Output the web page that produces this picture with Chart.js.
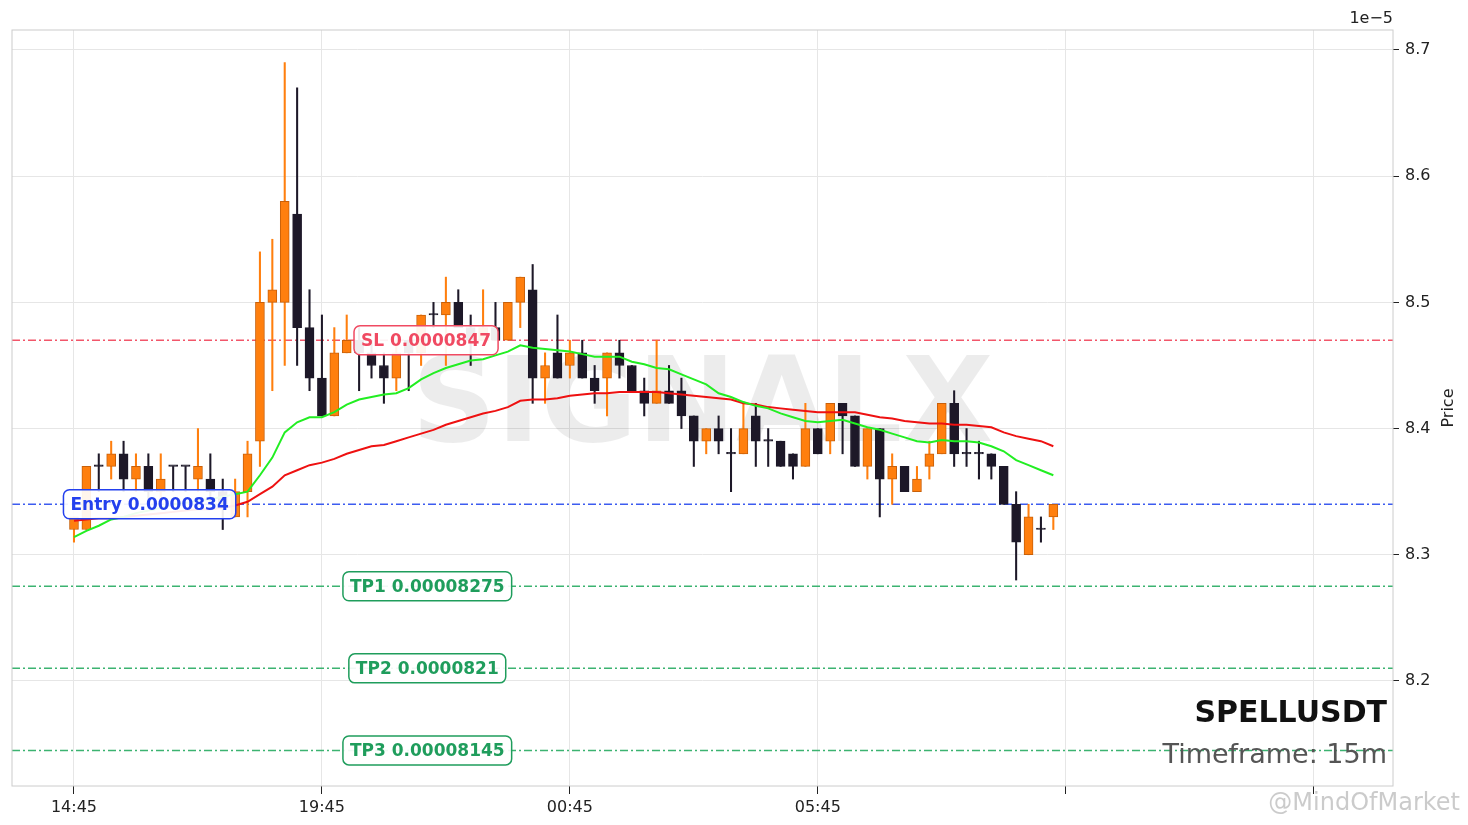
<!DOCTYPE html>
<html lang="en">
<head>
  <meta charset="UTF-8">
  <title>SPELLUSDT 15m</title>
  <script src="https://cdn.jsdelivr.net/npm/chart.js"></script>
  <style>
    body { margin: 0; background: #fff; }
    #wrap { width: 1468px; height: 825px; position: relative; }
  </style>
</head>
<body>
  <div id="wrap"><canvas id="chart"></canvas></div>

  <script>
    // Velas de 15m (precios en unidades de 1e-5)
    const opens  = [8.32, 8.32, 8.37, 8.37, 8.38, 8.36, 8.37, 8.35, 8.37, 8.37,
                    8.36, 8.36, 8.35, 8.33, 8.35, 8.39, 8.50, 8.50, 8.57, 8.48,
                    8.44, 8.41, 8.46, 8.47, 8.46, 8.45, 8.44, 8.47, 8.46, 8.49,
                    8.49, 8.50, 8.48, 8.47, 8.48, 8.47, 8.50, 8.51, 8.44, 8.46,
                    8.45, 8.46, 8.44, 8.44, 8.46, 8.45, 8.43, 8.42, 8.43, 8.43,
                    8.41, 8.39, 8.40, 8.38, 8.38, 8.41, 8.39, 8.39, 8.38, 8.37,
                    8.40, 8.39, 8.42, 8.41, 8.37, 8.40, 8.36, 8.37, 8.35, 8.37,
                    8.38, 8.42, 8.38, 8.38, 8.38, 8.37, 8.34, 8.30, 8.32, 8.33];
    const highs  = [8.33, 8.37, 8.38, 8.39, 8.39, 8.38, 8.38, 8.38, 8.37, 8.37,
                    8.40, 8.38, 8.36, 8.36, 8.39, 8.54, 8.55, 8.69, 8.67, 8.51,
                    8.49, 8.48, 8.49, 8.48, 8.47, 8.46, 8.47, 8.47, 8.49, 8.50,
                    8.52, 8.51, 8.49, 8.51, 8.50, 8.50, 8.52, 8.53, 8.46, 8.49,
                    8.47, 8.47, 8.45, 8.46, 8.47, 8.45, 8.44, 8.47, 8.45, 8.44,
                    8.41, 8.40, 8.41, 8.40, 8.42, 8.42, 8.40, 8.39, 8.38, 8.42,
                    8.40, 8.42, 8.42, 8.41, 8.40, 8.40, 8.38, 8.37, 8.37, 8.39,
                    8.42, 8.43, 8.40, 8.39, 8.38, 8.37, 8.35, 8.34, 8.33, 8.34];
    const lows   = [8.31, 8.32, 8.35, 8.36, 8.35, 8.35, 8.34, 8.34, 8.35, 8.35,
                    8.35, 8.34, 8.32, 8.33, 8.33, 8.37, 8.43, 8.45, 8.45, 8.43,
                    8.41, 8.41, 8.46, 8.43, 8.44, 8.42, 8.43, 8.43, 8.45, 8.48,
                    8.45, 8.48, 8.45, 8.47, 8.47, 8.47, 8.48, 8.42, 8.42, 8.44,
                    8.44, 8.44, 8.42, 8.41, 8.44, 8.43, 8.41, 8.42, 8.42, 8.40,
                    8.37, 8.38, 8.38, 8.35, 8.38, 8.37, 8.37, 8.37, 8.36, 8.37,
                    8.38, 8.38, 8.38, 8.37, 8.36, 8.33, 8.34, 8.35, 8.35, 8.36,
                    8.38, 8.37, 8.37, 8.36, 8.36, 8.34, 8.28, 8.30, 8.31, 8.32];
    const closes = [8.33, 8.37, 8.37, 8.38, 8.36, 8.37, 8.35, 8.36, 8.37, 8.37,
                    8.37, 8.35, 8.34, 8.35, 8.38, 8.50, 8.51, 8.58, 8.48, 8.44,
                    8.41, 8.46, 8.47, 8.46, 8.45, 8.44, 8.46, 8.46, 8.49, 8.49,
                    8.50, 8.48, 8.47, 8.48, 8.47, 8.50, 8.52, 8.44, 8.45, 8.44,
                    8.46, 8.44, 8.43, 8.46, 8.45, 8.43, 8.42, 8.43, 8.42, 8.41,
                    8.39, 8.40, 8.39, 8.38, 8.40, 8.39, 8.39, 8.37, 8.37, 8.40,
                    8.38, 8.42, 8.41, 8.37, 8.40, 8.36, 8.37, 8.35, 8.36, 8.38,
                    8.42, 8.38, 8.38, 8.38, 8.37, 8.34, 8.31, 8.33, 8.32, 8.34];

    // Medias móviles
    const maFast = [8.314, 8.319, 8.323, 8.328, 8.330, 8.333, 8.335, 8.337, 8.340, 8.341,
                    8.343, 8.344, 8.346, 8.348, 8.350, 8.363, 8.377, 8.397, 8.405, 8.409,
                    8.409, 8.413, 8.419, 8.423, 8.425, 8.427, 8.428, 8.432, 8.439, 8.444,
                    8.448, 8.451, 8.454, 8.455, 8.458, 8.461, 8.466, 8.464, 8.463, 8.462,
                    8.461, 8.459, 8.457, 8.457, 8.457, 8.453, 8.451, 8.448, 8.447, 8.443,
                    8.439, 8.435, 8.428, 8.425, 8.421, 8.418, 8.416, 8.412, 8.409, 8.406,
                    8.405, 8.406, 8.407, 8.404, 8.401, 8.399, 8.396, 8.393, 8.390, 8.389,
                    8.391, 8.390, 8.390, 8.389, 8.386, 8.382, 8.375, 8.371, 8.367, 8.363];
    const maSlow = [8.327, 8.328, 8.329, 8.329, 8.330, 8.331, 8.332, 8.333, 8.334, 8.335,
                    8.336, 8.336, 8.337, 8.339, 8.342, 8.348, 8.354, 8.363, 8.367, 8.371,
                    8.373, 8.376, 8.380, 8.383, 8.386, 8.387, 8.390, 8.393, 8.396, 8.399,
                    8.403, 8.406, 8.409, 8.412, 8.414, 8.417, 8.422, 8.423, 8.423, 8.424,
                    8.426, 8.427, 8.428, 8.428, 8.429, 8.429, 8.429, 8.429, 8.428, 8.427,
                    8.426, 8.425, 8.424, 8.423, 8.420, 8.419, 8.417, 8.416, 8.415, 8.414,
                    8.413, 8.413, 8.413, 8.413, 8.411, 8.409, 8.408, 8.406, 8.405, 8.404,
                    8.404, 8.403, 8.403, 8.402, 8.401, 8.397, 8.394, 8.392, 8.390, 8.386];

    // Niveles de la señal
    const levelValues = [8.47, 8.34, 8.275, 8.21, 8.145];
    const levelTexts  = ["SL 0.0000847", "Entry 0.0000834", "TP1 0.00008275", "TP2 0.0000821", "TP3 0.00008145"];

    // Eje x: índice de vela y etiquetas
    const tickIndex  = [0, 20, 40, 60, 80, 100];
    const tickLabels = ["14:45", "19:45", "00:45", "05:45", "", ""];
    const yTicks = [8.2, 8.3, 8.4, 8.5, 8.6, 8.7];

    const symbol = "SPELLUSDT";
    const timeframe = "Timeframe: 15m";

    // Estilos
    const UP = "#ff7f0e", UP_EDGE = "#c8600a", DOWN = "#1d1828";
    const levelLine  = ["#f2566a", "#3d5cf0", "#3cb371", "#3cb371", "#3cb371"];
    const levelColor = ["#f04a62", "#2340ee", "#1f9d5c", "#1f9d5c", "#1f9d5c"];
    const labelAt    = [28.4, 6.1, 28.5, 28.5, 28.5];

    const isUp = closes.map((c, i) => c > opens[i]);
    const bodies = opens.map((o, i) => ({ x: i, y: [o, closes[i]] }));
    const wicks = lows.map((l, i) => ({ x: i, y: [l, highs[i]] }));

    const fontFam = "'DejaVu Sans', sans-serif";
    Chart.defaults.font.family = fontFam;
    Chart.defaults.font.size = 16;
    Chart.defaults.color = "#222";

    const overlay = {
      id: "overlay",
      beforeDatasetsDraw(chart) {
        const { ctx, chartArea: a, scales: { y } } = chart;
        ctx.save();
        // marca de agua
        ctx.fillStyle = "rgba(0,0,0,0.075)";
        ctx.font = "bold 118px " + fontFam;
        ctx.textAlign = "center";
        ctx.textBaseline = "alphabetic";
        ctx.fillText("SIGNALX", (a.left + a.right) / 2, 441);
        // líneas de nivel
        ctx.lineWidth = 1.5;
        ctx.setLineDash([8, 3, 2, 3]);
        levelValues.forEach((v, i) => {
          const py = y.getPixelForValue(v);
          ctx.strokeStyle = levelLine[i];
          ctx.beginPath();
          ctx.moveTo(a.left, py);
          ctx.lineTo(a.right, py);
          ctx.stroke();
        });
        ctx.restore();
      },
      afterDatasetsDraw(chart) {
        const { ctx, chartArea: a, scales: { x, y } } = chart;
        ctx.save();
        // etiquetas de nivel
        ctx.font = "bold 17px " + fontFam;
        ctx.textAlign = "center";
        ctx.textBaseline = "middle";
        levelTexts.forEach((t, i) => {
          const cx = x.getPixelForValue(labelAt[i]);
          const cy = y.getPixelForValue(levelValues[i]);
          const w = ctx.measureText(t).width + 14, h = 29;
          ctx.beginPath();
          ctx.roundRect(cx - w / 2, cy - h / 2, w, h, 6);
          ctx.fillStyle = "rgba(255,255,255,0.92)";
          ctx.fill();
          ctx.lineWidth = 1.5;
          ctx.strokeStyle = levelColor[i];
          ctx.stroke();
          ctx.fillStyle = levelColor[i];
          ctx.fillText(t, cx, cy + 1);
        });
        // borde del área
        ctx.strokeStyle = "#cccccc";
        ctx.lineWidth = 1;
        ctx.strokeRect(a.left, a.top, a.right - a.left, a.bottom - a.top);
        // símbolo y timeframe
        ctx.textAlign = "right";
        ctx.textBaseline = "alphabetic";
        ctx.fillStyle = "#111";
        ctx.font = "bold 30px " + fontFam;
        ctx.fillText(symbol, a.right - 6, 722);
        ctx.fillStyle = "#555";
        ctx.font = "27px " + fontFam;
        ctx.fillText(timeframe, a.right - 6, 763);
        ctx.restore();
      },
      afterDraw(chart) {
        const { ctx, chartArea: a } = chart;
        ctx.save();
        ctx.fillStyle = "#222";
        ctx.font = "16px " + fontFam;
        ctx.textAlign = "right";
        ctx.fillText("1e\u22125", a.right, 23);
        ctx.translate(1453, (a.top + a.bottom) / 2);
        ctx.rotate(-Math.PI / 2);
        ctx.textAlign = "center";
        ctx.fillText("Price", 0, 0);
        ctx.restore();
        ctx.save();
        ctx.fillStyle = "rgba(140,140,140,0.45)";
        ctx.font = "24px " + fontFam;
        ctx.textAlign = "right";
        ctx.fillText("@MindOfMarket", 1460, 810);
        ctx.restore();
      }
    };

    new Chart(document.getElementById("chart"), {
      type: "bar",
      data: {
        datasets: [
          {
            type: "line", label: "fast", data: maFast.map((v, i) => ({ x: i, y: v })),
            borderColor: "#22ee22", borderWidth: 2, pointRadius: 0, tension: 0, order: 1
          },
          {
            type: "line", label: "slow", data: maSlow.map((v, i) => ({ x: i, y: v })),
            borderColor: "#ee1111", borderWidth: 2, pointRadius: 0, tension: 0, order: 1
          },
          {
            label: "body", data: bodies, order: 2,
            backgroundColor: isUp.map(u => u ? UP : DOWN),
            borderColor: isUp.map(u => u ? UP_EDGE : DOWN),
            borderWidth: 1, borderSkipped: false, barThickness: 9, minBarLength: 1.5
          },
          {
            label: "wick", data: wicks, order: 3,
            backgroundColor: isUp.map(u => u ? UP : DOWN),
            borderWidth: 0, barThickness: 1.4
          }
        ]
      },
      options: {
        responsive: true,
        maintainAspectRatio: false,
        animation: false,
        grouped: false,
        layout: { padding: { left: 12, top: 30, right: 0, bottom: 0 } },
        plugins: { legend: { display: false }, tooltip: { enabled: false } },
        scales: {
          x: {
            type: "linear", offset: false, min: -5, max: 106.4,
            afterBuildTicks: s => { s.ticks = tickIndex.map(v => ({ value: v })); },
            afterFit: s => { s.height = 39; },
            ticks: {
              autoSkip: false, maxRotation: 0, padding: 4,
              callback: v => tickLabels[tickIndex.indexOf(v)] ?? ""
            },
            grid: { offset: false, color: "#e6e6e6", tickColor: "#222", tickLength: 8 },
            border: { display: false }
          },
          y: {
            position: "right", min: 8.1168, max: 8.7158,
            afterBuildTicks: s => { s.ticks = yTicks.map(v => ({ value: v })); },
            afterFit: s => { s.width = 75; },
            ticks: { padding: 6, callback: v => v.toFixed(1) },
            grid: { color: "#e6e6e6", tickColor: "#222", tickLength: 6 },
            border: { display: false }
          }
        }
      },
      plugins: [overlay]
    });
  </script>
</body>
</html>
